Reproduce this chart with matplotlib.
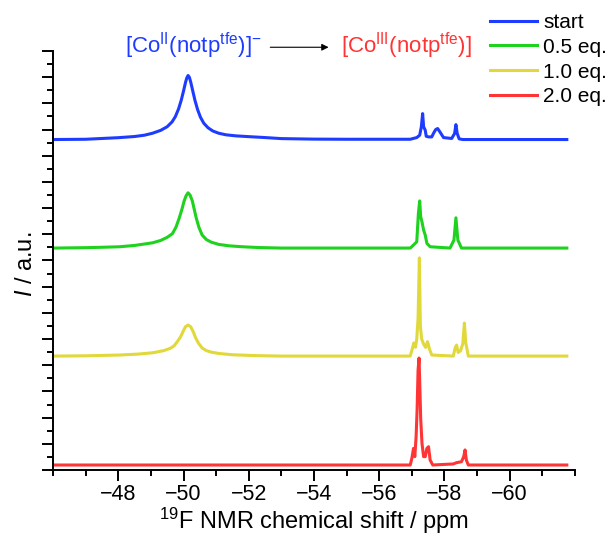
import matplotlib
matplotlib.use("Agg")
import matplotlib.pyplot as plt
from matplotlib.ticker import MultipleLocator

plt.rcParams['font.family'] = ['Liberation Sans', 'DejaVu Sans']
plt.rcParams['mathtext.fontset'] = 'custom'
plt.rcParams['mathtext.rm'] = 'Liberation Sans'
plt.rcParams['mathtext.it'] = 'Liberation Sans:italic'

# Spectra: shift (ppm) and intensity above own baseline (a.u.)
labels = ['start', '0.5 eq.', '1.0 eq.', '2.0 eq.']
colors = ['#1e3cff', '#1ed21e', '#e1d83a', '#ff3434']
offsets = [25.24, 16.95, 8.70, 0.38]

start_ppm = [-46.05, -47.0, -47.5, -48.0, -48.5, -48.8, -49.05, -49.3, -49.5,
             -49.65, -49.75, -49.85, -49.93, -50.0, -50.06, -50.1, -50.14, -50.18,
             -50.22, -50.28, -50.35, -50.43, -50.52, -50.62, -50.75, -50.9, -51.08,
             -51.3, -51.6, -52.0, -52.5, -53.0, -54.0, -55.0, -56.0, -56.95,
             -57.15, -57.24, -57.29, -57.33, -57.36, -57.41, -57.44, -57.51, -57.61,
             -57.66, -57.73, -57.79, -57.86, -57.97, -58.22, -58.31, -58.35, -58.39,
             -58.45, -58.56, -59.5, -60.5, -61.75]
start_int = [0.0, 0.02, 0.08, 0.14, 0.23, 0.33, 0.48, 0.7, 0.98,
             1.35, 1.75, 2.35, 3.0, 3.7, 4.35, 4.7, 4.89, 4.75,
             4.4, 3.75, 3.0, 2.3, 1.7, 1.25, 0.9, 0.65, 0.48,
             0.36, 0.28, 0.22, 0.15, 0.07, 0.03, 0.02, 0.02, 0.02,
             0.15, 0.33, 0.97, 1.98, 0.97, 0.71, 0.25, 0.2, 0.2,
             0.46, 0.76, 0.84, 0.58, 0.15, 0.08, 0.46, 1.14, 0.46,
             0.05, 0.0, 0.0, 0.0, 0.0]

eq05_ppm = [-46.05, -47.0, -47.5, -48.04, -48.5, -49.05, -49.3, -49.5, -49.66,
            -49.77, -49.87, -49.95, -50.02, -50.08, -50.14, -50.2, -50.27, -50.33,
            -50.39, -50.47, -50.57, -50.7, -50.85, -51.08, -51.4, -51.8, -52.3,
            -53.0, -55.0, -56.5, -56.95, -57.05, -57.15, -57.2, -57.24, -57.27,
            -57.31, -57.36, -57.41, -57.46, -57.56, -58.17, -58.29, -58.35, -58.41,
            -58.52, -59.5, -60.5, -61.75]
eq05_int = [0.0, 0.03, 0.06, 0.1, 0.2, 0.4, 0.58, 0.82, 1.1,
            1.6, 2.3, 2.95, 3.6, 4.0, 4.22, 4.05, 3.6, 2.95,
            2.3, 1.6, 1.0, 0.65, 0.45, 0.28, 0.17, 0.1, 0.04,
            0.0, 0.0, 0.0, 0.0, 0.23, 0.48, 2.65, 3.6, 2.4,
            2.0, 1.37, 0.99, 0.36, 0.1, 0.0, 0.61, 2.31, 0.61,
            0.0, 0.0, 0.0, 0.0]

eq10_ppm = [-46.05, -47.0, -48.04, -48.6, -49.05, -49.4, -49.6, -49.71, -49.81,
            -49.91, -50.0, -50.06, -50.14, -50.22, -50.3, -50.37, -50.46, -50.57,
            -50.7, -50.85, -51.08, -51.5, -52.29, -53.0, -56.0, -56.95, -57.01,
            -57.06, -57.11, -57.15, -57.19, -57.23, -57.26, -57.3, -57.36, -57.42,
            -57.48, -57.54, -57.61, -58.27, -58.33, -58.37, -58.42, -58.49, -58.56,
            -58.61, -58.65, -58.73, -59.5, -60.5, -61.75]
eq10_int = [0.0, 0.02, 0.08, 0.15, 0.25, 0.42, 0.6, 0.78, 1.1,
            1.47, 1.95, 2.24, 2.37, 2.24, 1.85, 1.4, 0.98, 0.62,
            0.42, 0.3, 0.2, 0.1, 0.03, 0.0, 0.0, 0.0, 0.53,
            1.0, 0.67, 1.3, 2.9, 7.5, 2.3, 1.3, 0.92, 0.66,
            1.1, 0.53, 0.08, 0.0, 0.66, 0.84, 0.28, 0.4, 0.92,
            2.52, 1.05, 0.0, 0.0, 0.0, 0.0]

eq20_ppm = [-46.05, -50.0, -54.0, -56.95, -57.0, -57.05, -57.09, -57.13, -57.16,
            -57.19, -57.22, -57.25, -57.27, -57.31, -57.36, -57.41, -57.46, -57.51,
            -57.56, -57.64, -58.27, -58.37, -58.52, -58.59, -58.63, -58.67, -58.73,
            -59.5, -60.5, -61.75]
eq20_int = [0.0, 0.0, 0.0, 0.0, 0.51, 1.27, 0.64, 2.17, 4.2,
            7.25, 8.17, 5.47, 3.56, 1.66, 0.64, 0.64, 1.27, 1.4,
            0.38, 0.0, 0.08, 0.18, 0.25, 0.64, 1.15, 0.38, 0.0,
            0.0, 0.0, 0.0]

xs = [start_ppm, eq05_ppm, eq10_ppm, eq20_ppm]
ys = [start_int, eq05_int, eq10_int, eq20_int]

fig = plt.figure(figsize=(6.08, 5.37), dpi=100)
ax = fig.add_axes([0.0872, 0.1248, 0.8585, 0.7802])

for x, y, off, c, lab in zip(xs, ys, offsets, colors, labels):
    ax.plot(x, [v + off for v in y], color=c, lw=2.2, label=lab)

ax.set_xlim(-46, -62)
ax.set_ylim(0, 32)
ax.xaxis.set_minor_locator(MultipleLocator(1))
ax.yaxis.set_major_locator(MultipleLocator(2))
ax.yaxis.set_minor_locator(MultipleLocator(1))
ax.set_xticks([-48, -50, -52, -54, -56, -58, -60])
ax.set_xticklabels(['\u221248', '\u221250', '\u221252', '\u221254',
                    '\u221256', '\u221258', '\u221260'])
ax.tick_params(which='major', direction='out', length=8, width=1.4,
               labelsize=15.5, pad=2)
ax.tick_params(which='minor', direction='out', length=4, width=1.4)
ax.tick_params(axis='y', labelleft=False)
for s in ['top', 'right']:
    ax.spines[s].set_visible(False)
for s in ['left', 'bottom']:
    ax.spines[s].set_linewidth(1.4)

ax.set_xlabel(r'$^{19}$F NMR chemical shift / ppm', fontsize=17, labelpad=1)
ax.set_ylabel(r'$\mathit{I}$ / a.u.', fontsize=17)
ax.yaxis.set_label_coords(-0.03, 0.49)

fig.text(0.318, 0.915, r'[Co$^{\mathrm{II}}$(notp$^{\mathrm{tfe}}$)]$^{-}$',
         color='#1e3cff', fontsize=16, ha='center', va='center')
fig.text(0.668, 0.915, r'[Co$^{\mathrm{III}}$(notp$^{\mathrm{tfe}}$)]',
         color='#ff3434', fontsize=16, ha='center', va='center')
ax.annotate('', xy=(0.545, 0.912), xytext=(0.44, 0.912),
            xycoords='figure fraction', textcoords='figure fraction',
            arrowprops=dict(arrowstyle='-|>', color='black', lw=0.8,
                            mutation_scale=10))

fig.legend(loc='upper left', bbox_to_anchor=(0.806, 0.976), frameon=False,
           fontsize=15, handlelength=2.26, handletextpad=0.3,
           labelspacing=0.28, borderaxespad=0, borderpad=0)

fig.savefig('out.png', dpi=100)
